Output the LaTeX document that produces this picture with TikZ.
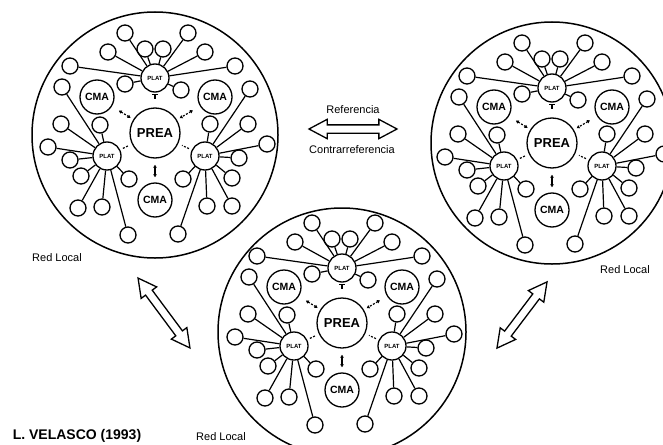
\documentclass[tikz,border=0pt]{standalone}
\usepackage{fontspec}
\setmainfont{Liberation Sans}
\usetikzlibrary{calc,shapes.arrows,arrows.meta}
\newcommand\netw[3]{%
  \node[prea] (#1pr) at (#2,#3) {PREA};
  \node[plat] (#1tp) at ($(#1pr)+(0,-55)$) {PLAT};
  \node[plat] (#1lp) at ($(#1pr)+(-48,23)$) {PLAT};
  \node[plat] (#1rp) at ($(#1pr)+(50,23)$) {PLAT};
  \node[cma] (#1ca) at ($(#1pr)+(-58,-36)$) {CMA};
  \node[cma] (#1cb) at ($(#1pr)+(60,-36)$) {CMA};
  \node[cma] (#1cc) at ($(#1pr)+(0,67)$) {CMA};
  \foreach \dx/\dy [count=\i] in {-30/-45,33/-45,-10/-29,8/-29,-47/-26,50/-26,-85/-12,80/-12,-30/6,26/12}
    {\node[leaf] (#1t\i) at ($(#1tp)+(\dx,\dy)$) {}; \draw[link] (#1tp) -- (#1t\i);}
  \foreach \dx/\dy [count=\i] in {-45/-69,-46/-32,-7/-31,-59/-9,-37/4,-26/20,22/23,-29/52,-5/51,21/79}
    {\node[leaf] (#1l\i) at ($(#1lp)+(\dx,\dy)$) {}; \draw[link] (#1lp) -- (#1l\i);}
  \foreach \dx/\dy [count=\i] in {45/-67,43/-32,5/-32,62/-12,34/2,27/22,-22/23,27/50,2/50,-27/78}
    {\node[leaf] (#1r\i) at ($(#1rp)+(\dx,\dy)$) {}; \draw[link] (#1rp) -- (#1r\i);}
  \draw[link,{Bar[width=6pt]}-,shorten <=1.5pt,shorten >=8pt] (#1tp) -- (#1pr);
  \draw[minilink,shorten <=8pt,shorten >=3pt] (#1ca) -- (#1pr);
  \draw[minilink,shorten <=8pt,shorten >=3pt] (#1cb) -- (#1pr);
  \draw[link,{Latex[length=3pt,width=4pt]}-{Latex[length=3pt,width=4pt]},shorten <=6pt,shorten >=5pt] (#1pr) -- (#1cc);
  \draw[link,dash pattern=on 2pt off 1.5pt,shorten <=3pt,shorten >=4pt] (#1lp) -- (#1pr);
  \draw[link,dash pattern=on 2pt off 1.5pt,shorten <=3pt,shorten >=4pt] (#1rp) -- (#1pr);
}
\begin{document}
\begin{tikzpicture}[x=1pt,y=-1pt,
  bigc/.style={draw,circle,line width=1.5pt,inner sep=0pt},
  leaf/.style={draw,circle,line width=1.3pt,minimum size=16pt,inner sep=0pt},
  plat/.style={draw,circle,line width=1.3pt,minimum size=28pt,inner sep=0pt,font=\bfseries\fontsize{6}{6}\selectfont},
  prea/.style={draw,circle,line width=1.3pt,minimum size=50pt,inner sep=0pt,font=\bfseries\fontsize{13}{13}\selectfont},
  cma/.style={draw,circle,line width=1.3pt,minimum size=34pt,inner sep=0pt,font=\bfseries\fontsize{10.5}{10.5}\selectfont},
  link/.style={line width=1.2pt},
  minilink/.style={line width=1.2pt,dash pattern=on 2pt off 1.5pt,{Latex[length=3pt,width=4pt]}-{Latex[length=3pt,width=4pt]}},
  darrow/.style={draw,double arrow,line width=1.3pt,inner xsep=0pt,inner ysep=3.5pt,double arrow head extend=5.5pt,double arrow tip angle=56},
  lbl/.style={font=\fontsize{11}{11}\selectfont,inner sep=0pt}]
\useasboundingbox (0,0) rectangle (663,444);
\clip (0,0) rectangle (663,444);
\fill[white] (0,0) rectangle (663,444);
% big circles
\node[bigc,minimum size=246pt] (lbig) at (155,135) {};
\node[bigc,minimum size=242pt] (rbig) at (552,143) {};
\node[bigc,minimum size=248pt] (bbig) at (342,332) {};
% networks
\netw{L}{155}{133}
\netw{R}{552}{143}
\netw{B}{342}{323}
% arrows
\node[darrow,minimum height=88pt] (marrow) at (353,129) {};
\node[darrow,minimum height=87pt,rotate=-53.4] (larrow) at (164,313) {};
\node[darrow,minimum height=83pt,rotate=52.9] (rarrow) at (522,315) {};
% labels
\node[lbl] (ref) at (353,110) {Referencia};
\node[lbl] (contra) at (352,150) {Contrarreferencia};
\node[lbl] (rl1) at (57,258) {Red Local};
\node[lbl] (rl2) at (625,270) {Red Local};
\node[lbl] (rl3) at (221,437) {Red Local};
\node[font=\bfseries\fontsize{14}{14}\selectfont,inner sep=0pt] (vel) at (77,436) {L. VELASCO (1993)};
\end{tikzpicture}
\end{document}
